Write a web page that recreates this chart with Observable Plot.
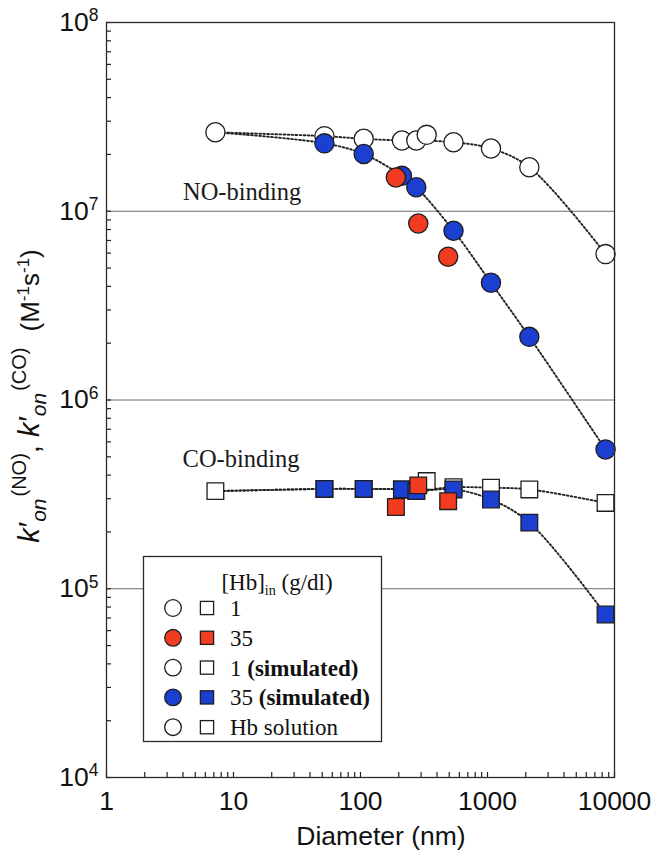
<!DOCTYPE html>
<html>
<head>
<meta charset="utf-8">
<script src="https://cdn.jsdelivr.net/npm/d3@7"></script>
<script src="https://cdn.jsdelivr.net/npm/@observablehq/plot@0.6"></script>
<style>
  body { margin: 0; background: #fff; }
  #chart { width: 655px; height: 851px; }
</style>
</head>
<body>
<div id="chart"></div>
<script>
// ---------- data ----------
const hbSolutionD = 7.2;          // nm
const hbSolutionNO = 2.62e7;      // M^-1 s^-1
const hbSolutionCO = 3.29e5;

const simD     = [52, 106, 212, 275, 540, 1065, 2135, 8500];
const simNO_1  = [2.50e7, 2.42e7, 2.37e7, 2.37e7, 2.32e7, 2.15e7, 1.71e7, 5.93e6];
const simNO_35 = [2.29e7, 2.01e7, 1.54e7, 1.34e7, 7.88e6, 4.18e6, 2.16e6, 5.47e5];
const simCO_1  = [3.38e5, 3.38e5, 3.36e5, 3.32e5, 3.45e5, 3.43e5, 3.36e5, 2.85e5];
const simCO_35 = [3.38e5, 3.38e5, 3.36e5, 3.29e5, 3.36e5, 2.97e5, 2.24e5, 7.3e4];

const measD_1   = [332];
const measNO_1  = [2.54e7];
const measCO_1  = [3.72e5];

const measD_35  = [190, 285, 490];
const measNO_35 = [1.51e7, 8.61e6, 5.74e6];
const measCO_35 = [2.71e5, 3.53e5, 2.91e5];

const xTicks = [1, 10, 100, 1000, 10000];
const yTicks = [1e4, 1e5, 1e6, 1e7, 1e8];
const gridY  = [1e5, 1e6, 1e7];

const annotations = [
  {label: "NO-binding", d: 4.0, k: 1.26e7},
  {label: "CO-binding", d: 3.97, k: 4.83e5}
];

const legendTitle = "[Hb]";
const legendRows = [
  {fill: "white", text: "1", bold: ""},
  {fill: "red",   text: "35", bold: ""},
  {fill: "white", text: "1 ", bold: "(simulated)"},
  {fill: "blue",  text: "35 ", bold: "(simulated)"},
  {fill: "white", text: "Hb solution", bold: ""}
];

// ---------- styling ----------
const RED = "#f23c22", BLUE = "#1b3fd0", EDGE = "#1e1e1e";
const colorOf = {white: "white", red: RED, blue: BLUE};
const W = 655, H = 851, mL = 106, mR = 41, mT = 22, mB = 74;
const innerW = W - mL - mR, innerH = H - mT - mB;

const simRows = simD.map((d, i) => ({d, no1: simNO_1[i], no35: simNO_35[i], co1: simCO_1[i], co35: simCO_35[i]}));
const hbRow = {d: hbSolutionD, no1: hbSolutionNO, no35: hbSolutionNO, co1: hbSolutionCO, co35: hbSolutionCO};
const lineRows = [hbRow, ...simRows];
const meas1Rows = measD_1.map((d, i) => ({d, no: measNO_1[i], co: measCO_1[i]}));
const meas35Rows = measD_35.map((d, i) => ({d, no: measNO_35[i], co: measCO_35[i]}));

const xMinor = d3.scaleLog().domain([1, 10000]).ticks(60);
const yMinor = d3.scaleLog().domain([1e4, 1e8]).ticks(60);

const lineOpts = {x: "d", curve: "catmull-rom", stroke: "#222", strokeWidth: 1.9, strokeDasharray: "1.7,2.3"};
const circ = (fill) => ({r: 9.6, fill, stroke: EDGE, strokeWidth: 1.3});
const sq = (fill) => ({r: 9.4, symbol: "square", fill, stroke: EDGE, strokeWidth: 1.3});

const plot = Plot.plot({
  width: W, height: H,
  marginLeft: mL, marginRight: mR, marginTop: mT, marginBottom: mB,
  x: {type: "log", domain: [1, 10000]},
  y: {type: "log", domain: [1e4, 1e8]},
  style: {fontFamily: "'Liberation Sans', Arial, sans-serif", fontSize: "26px", background: "white", color: "#111"},
  marks: [
    Plot.ruleY(gridY, {stroke: "#6a6a6a", strokeWidth: 1}),
    Plot.tickY(yMinor, {y: d => d, insetRight: innerW - 5, stroke: "#222", strokeWidth: 1.2}),
    Plot.tickX(xMinor, {x: d => d, insetTop: innerH - 5, stroke: "#222", strokeWidth: 1.2}),
    Plot.axisX(xTicks, {tickSize: 0, tickPadding: 14, tickFormat: d => String(d), label: null, fontSize: 26.5}),
    Plot.axisY(yTicks, {tickSize: 0, tickPadding: 8, tickFormat: d => "10|" + Math.round(Math.log10(d)), label: null, fontSize: 26.5}),
    // dotted simulation curves
    Plot.line(lineRows, {...lineOpts, y: "no1"}),
    Plot.line(lineRows, {...lineOpts, y: "no35"}),
    Plot.line(lineRows, {...lineOpts, y: "co1"}),
    Plot.line(lineRows, {...lineOpts, y: "co35"}),
    // simulated 1 g/dl (open)
    Plot.dot(simRows, {x: "d", y: "no1", ...circ("white")}),
    Plot.dot(simRows, {x: "d", y: "co1", ...sq("white")}),
    // simulated 35 g/dl (blue)
    Plot.dot(simRows, {x: "d", y: "no35", ...circ(BLUE)}),
    Plot.dot(simRows, {x: "d", y: "co35", ...sq(BLUE)}),
    // measured 1 g/dl (open)
    Plot.dot(meas1Rows, {x: "d", y: "no", ...circ("white")}),
    Plot.dot(meas1Rows, {x: "d", y: "co", ...sq("white")}),
    // measured 35 g/dl (red)
    Plot.dot(meas35Rows, {x: "d", y: "no", ...circ(RED)}),
    Plot.dot(meas35Rows, {x: "d", y: "co", ...sq(RED)}),
    // Hb solution
    Plot.dot([hbRow], {x: "d", y: "no1", ...circ("white")}),
    Plot.dot([hbRow], {x: "d", y: "co1", ...sq("white")}),
    Plot.text(annotations, {x: "d", y: "k", text: "label", textAnchor: "start", fontFamily: "'Liberation Serif', 'Times New Roman', serif", fontSize: 24.5, fill: "#1a1a1a"}),
    Plot.frame({stroke: "#2a2a2a", strokeWidth: 1.3})
  ]
});

document.getElementById("chart").appendChild(plot);
const svg = d3.select(plot);

// y tick labels as 10 with superscript exponent
svg.selectAll('g[aria-label="y-axis tick label"] text').each(function() {
  const t = d3.select(this);
  const [base, exp] = t.text().split("|");
  t.text(null);
  t.append("tspan").text(base);
  t.append("tspan").attr("font-size", "17.5px").attr("dy", "-0.55em").text(exp);
});

// x axis title
svg.append("text")
  .attr("x", 381).attr("y", 845)
  .attr("text-anchor", "middle")
  .attr("font-family", "'Liberation Sans', Arial, sans-serif")
  .attr("font-size", 26.5).attr("fill", "#111")
  .text("Diameter (nm)");

// y axis title (rotated, with sub/superscripts)
const yl = svg.append("text")
  .attr("transform", "translate(39,396) rotate(-90)")
  .attr("text-anchor", "middle")
  .attr("font-family", "'Liberation Sans', Arial, sans-serif")
  .attr("font-size", 29).attr("fill", "#111");
const parts = [
  ["k", 0, null, true, 0], ["\u2032", 0, null, false, 1],
  ["on", 7, 21, true, 0], ["(NO)", -20, 20, false, 2],
  [",", 13, null, false, 0], ["k", 0, null, true, 8], ["\u2032", 0, null, false, 1],
  ["on", 7, 21, true, 0], ["(CO)", -20, 20, false, 2],
  ["(M", 13, 26, false, 16], ["-1", -10, 17, false, 0],
  ["s", 10, 26, false, 0], ["-1", -10, 17, false, 0], [")", 10, 26, false, 0]
];
parts.forEach(([txt, dy, fs, it, dx]) => {
  const ts = yl.append("tspan").text(txt).attr("dy", dy);
  if (dx) ts.attr("dx", dx);
  if (fs) ts.attr("font-size", fs);
  if (it) ts.attr("font-style", "italic");
});

// legend box
const serif = "'Liberation Serif', 'Times New Roman', serif";
const lg = svg.append("g").attr("text-anchor", "start");
lg.append("rect").attr("x", 143.5).attr("y", 556.5).attr("width", 238).attr("height", 185)
  .attr("fill", "white").attr("stroke", "#2a2a2a").attr("stroke-width", 1.3);
const tt = lg.append("text").attr("x", 277).attr("y", 590).attr("text-anchor", "middle")
  .attr("font-family", serif).attr("font-size", 23).attr("fill", "#111");
tt.append("tspan").text(legendTitle);
tt.append("tspan").attr("font-size", 14).attr("dy", 5).text("in");
tt.append("tspan").attr("dy", -5).text(" (g/dl)");
legendRows.forEach((row, i) => {
  const cy = 608 + i * 29.8;
  lg.append("circle").attr("cx", 173).attr("cy", cy).attr("r", 8.3)
    .attr("fill", colorOf[row.fill]).attr("stroke", EDGE).attr("stroke-width", 1.3);
  lg.append("rect").attr("x", 207 - 6.6).attr("y", cy - 6.6).attr("width", 13.2).attr("height", 13.2)
    .attr("fill", colorOf[row.fill]).attr("stroke", EDGE).attr("stroke-width", 1.3);
  const tx = lg.append("text").attr("x", 230).attr("y", cy + 8).attr("text-anchor", "start")
    .attr("font-family", serif).attr("font-size", 23).attr("fill", "#111");
  tx.append("tspan").text(row.text);
  if (row.bold) tx.append("tspan").attr("font-weight", "bold").text(row.bold);
});
</script>
</body>
</html>
